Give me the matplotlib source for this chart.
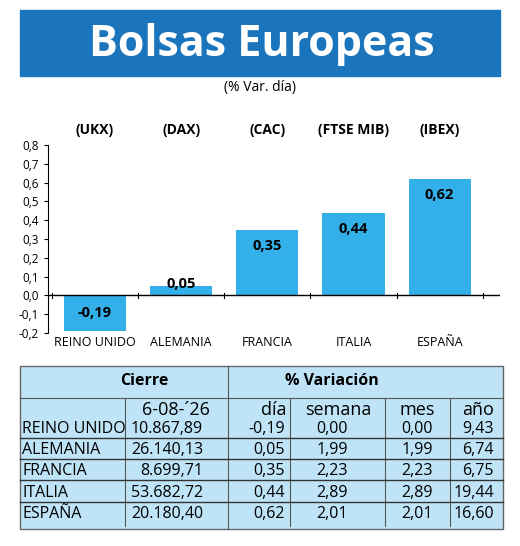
import matplotlib
matplotlib.use("Agg")
import matplotlib.pyplot as plt
from matplotlib.patches import Rectangle

countries = ["REINO UNIDO", "ALEMANIA", "FRANCIA", "ITALIA", "ESPAÑA"]
indices = ["(UKX)", "(DAX)", "(CAC)", "(FTSE MIB)", "(IBEX)"]
dia = [-0.19, 0.05, 0.35, 0.44, 0.62]
cierre = ["10.867,89", "26.140,13", "8.699,71", "53.682,72", "20.180,40"]
semana = ["0,00", "1,99", "2,23", "2,89", "2,01"]
mes = ["0,00", "1,99", "2,23", "2,89", "2,01"]
anio = ["9,43", "6,74", "6,75", "19,44", "16,60"]
yticks = [-0.2, -0.1, 0.0, 0.1, 0.2, 0.3, 0.4, 0.5, 0.6, 0.7, 0.8]

W, H = 520, 546
fig = plt.figure(figsize=(W/100, H/100), dpi=100)
NAR = ['Liberation Sans Narrow', 'Open Sans', 'DejaVu Sans']
plt.rcParams['font.family'] = ['Open Sans', 'DejaVu Sans']
BAR = "#33b0ea"
TAB = "#bfe4f7"

def fx(x): return x / W
def fy(y): return 1 - y / H

# Title
fig.patches.append(Rectangle((fx(20), fy(76)), fx(480), 66/H, transform=fig.transFigure,
                             color="#1b75bc", zorder=0))
fig.text(fx(262), fy(45), "Bolsas Europeas", color="white", fontsize=31, fontweight="bold",
         ha="center", va="center")
fig.text(fx(260), fy(88), "(% Var. día)", fontsize=10, ha="center", va="center")

# Chart
ax = fig.add_axes([fx(48), fy(333), fx(452), (333-145)/H])
x = list(range(len(dia)))
ax.bar(x, dia, width=0.72, color=BAR, zorder=2)
ax.set_ylim(-0.2, 0.8)
ax.set_xlim(-0.545, 4.70)
ax.set_yticks(yticks)
ax.set_yticklabels([f"{v:.1f}".replace(".", ",") for v in yticks], fontsize=8.5)
ax.spines[["top", "right", "bottom"]].set_visible(False)
ax.axhline(0, color="black", lw=1, zorder=3)
for xi in [i + 0.5 for i in range(-1, 5)]:
    ax.plot([xi, xi], [-0.012, 0.012], color="black", lw=0.8, zorder=3)
ax.set_xticks([])
ax.tick_params(axis="y", length=3)
for i, v in enumerate(dia):
    ly = v / 2 if v < 0 else max(v - 0.085, 0.06)
    ax.text(i, ly, f"{v:.2f}".replace(".", ","), ha="center",
            va="center", fontsize=10.5, fontweight="bold", zorder=4)
    ax.text(i, -0.25, countries[i], ha="center", va="center", fontsize=9, clip_on=False)
    ax.text(i, 0.88, indices[i], ha="center", va="center", fontsize=10, fontweight="bold",
            clip_on=False)

# Table
tax = fig.add_axes([0, 0, 1, 1])
tax.set_xlim(0, W); tax.set_ylim(H, 0); tax.axis("off")
tax.add_patch(Rectangle((20, 366), 483, 163, facecolor=TAB, edgecolor="#666666", lw=1))
tax.plot([20, 503], [398, 398], color="#555555", lw=0.8)
tax.plot([228, 228], [366, 529], color="#555555", lw=0.8)
for xv in [125, 290, 385, 450]:
    tax.plot([xv, xv], [398, 526], color="#555555", lw=0.8)
tax.text(144, 381, "Cierre", ha="center", va="center", fontsize=11.5, fontweight="bold", family=NAR)
tax.text(332, 381, "% Variación", ha="center", va="center", fontsize=11.5, fontweight="bold", family=NAR)
hdr_y = 410
hs = 13
tax.text(176, hdr_y, "6-08-´26", ha="center", va="center", fontsize=hs, family=NAR)
tax.text(287, hdr_y, "día", ha="right", va="center", fontsize=hs, family=NAR)
tax.text(338, hdr_y, "semana", ha="center", va="center", fontsize=hs, family=NAR)
tax.text(417, hdr_y, "mes", ha="center", va="center", fontsize=hs, family=NAR)
tax.text(494, hdr_y, "año", ha="right", va="center", fontsize=hs, family=NAR)
row_h = 21.2
rs = 11.5
for r in range(5):
    yc = 429 + r * row_h
    if r < 4:
        tax.plot([20, 503], [yc + 9, yc + 9], color="#333333", lw=1)
    tax.text(22, yc, countries[r], ha="left", va="center", fontsize=rs, family=NAR)
    tax.text(203, yc, cierre[r], ha="right", va="center", fontsize=rs, family=NAR)
    tax.text(285, yc, f"{dia[r]:.2f}".replace(".", ","), ha="right", va="center", fontsize=rs, family=NAR)
    tax.text(348, yc, semana[r], ha="right", va="center", fontsize=rs, family=NAR)
    tax.text(433, yc, mes[r], ha="right", va="center", fontsize=rs, family=NAR)
    tax.text(494, yc, anio[r], ha="right", va="center", fontsize=rs, family=NAR)

fig.savefig("out.png", dpi=100, facecolor="white")
